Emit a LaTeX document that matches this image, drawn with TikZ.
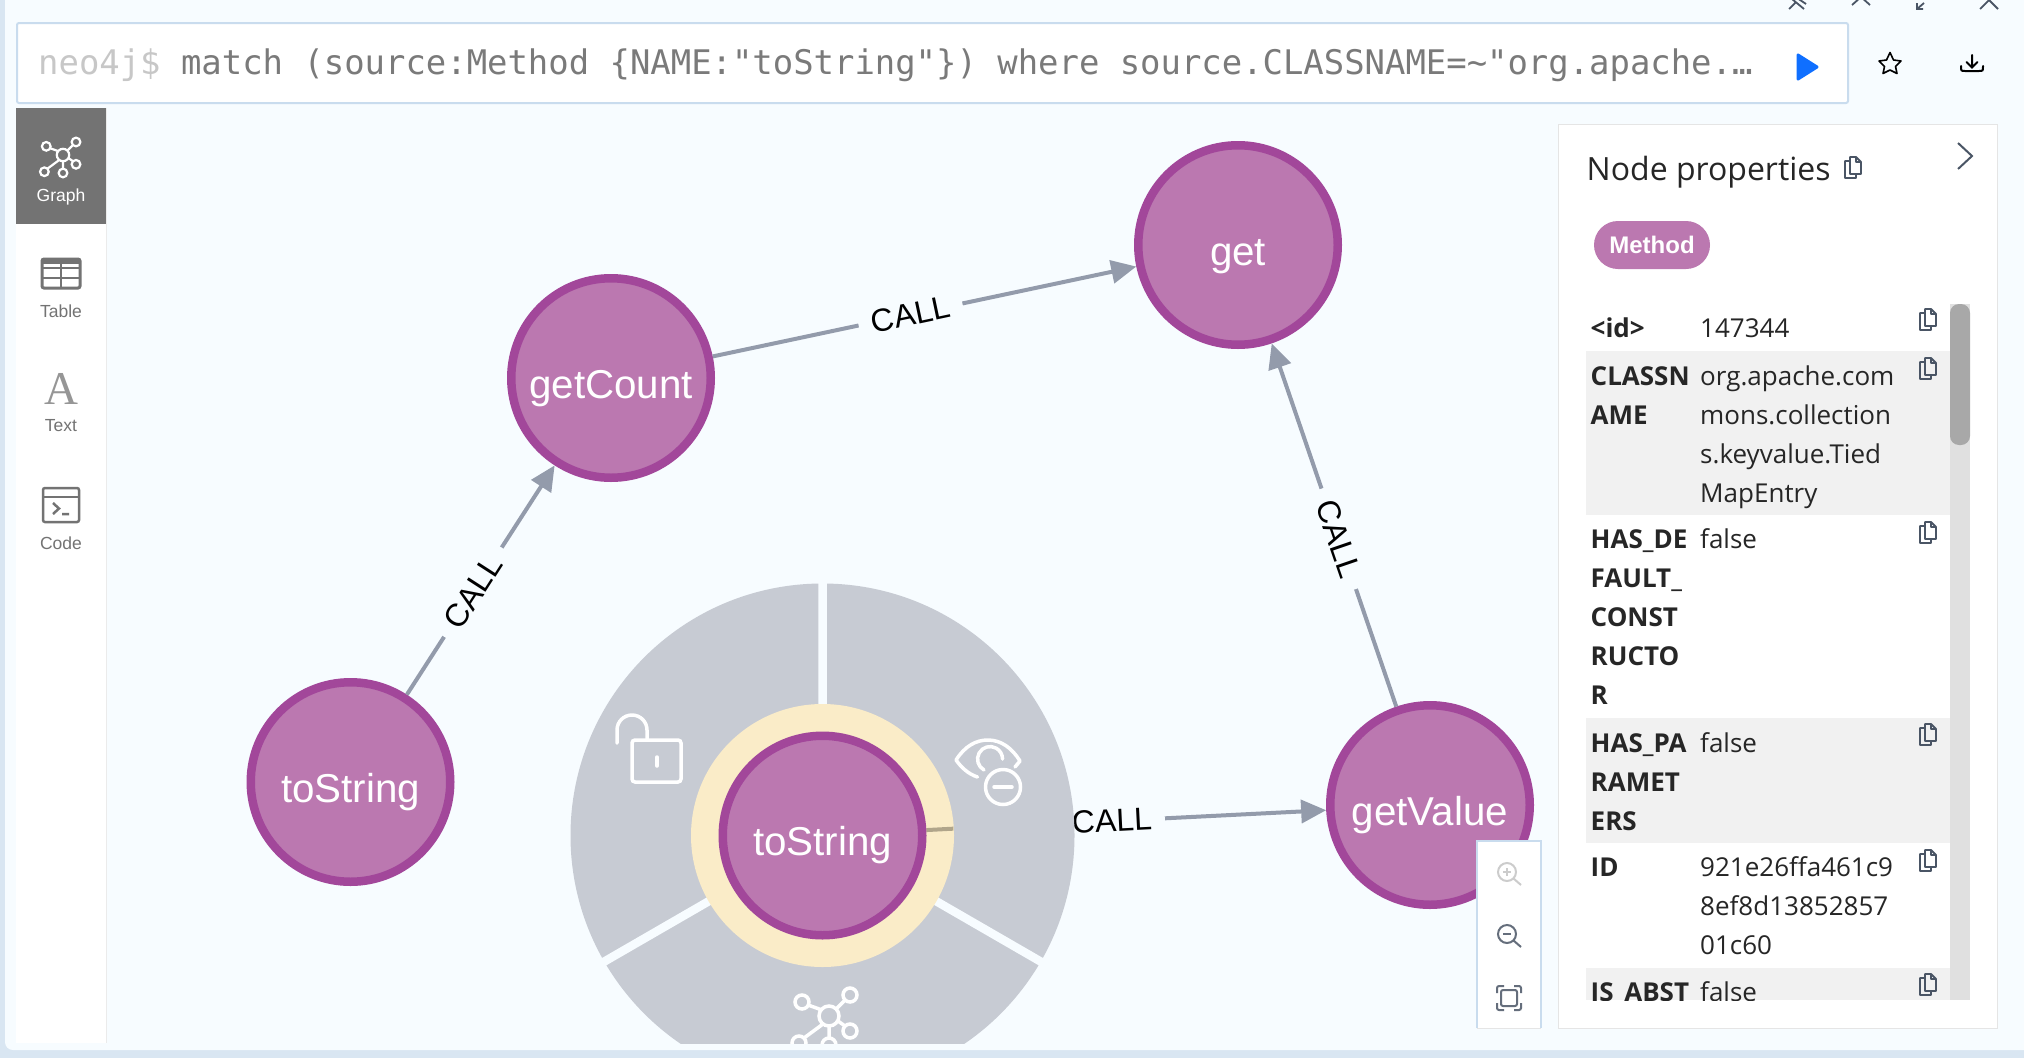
\documentclass[tikz,border=0pt]{standalone}
\usepackage{fontspec}
\setmainfont{Liberation Sans}
\newfontfamily\editorfont{DejaVu Sans Mono}
\newfontfamily\panelfont{Open Sans}
\newfontfamily\glyphfont{Liberation Serif}
\usetikzlibrary{arrows.meta,backgrounds}
\definecolor{canvasbg}{HTML}{F7FCFF}
\definecolor{framebg}{HTML}{D9E6F2}
\definecolor{boxedge}{HTML}{C9DCEE}
\definecolor{nodefill}{HTML}{BB78B0}
\definecolor{nodeedge}{HTML}{A2479A}
\definecolor{wheelgrey}{HTML}{C7CBD3}
\definecolor{halo}{HTML}{FAECC8}
\definecolor{haloedge}{HTML}{B0A58A}
\definecolor{edgegrey}{HTML}{939BAB}
\definecolor{iconslate}{HTML}{4A5565}
\definecolor{menugrey}{HTML}{737373}
\definecolor{rowgrey}{HTML}{F1F1F1}
\definecolor{runblue}{HTML}{0F6FFF}
\tikzset{
  method/.style={circle, draw=nodeedge, fill=nodefill, line width=8.5pt, minimum size=199.5pt, inner sep=0pt,
    text=white, font=\fontsize{40.3}{44}\selectfont, text height=40pt, text depth=0pt},
  call/.style={draw=edgegrey, line width=4pt, -{Triangle[length=25pt,width=23pt]}},
  calllabel/.style={fill=canvasbg, inner xsep=13pt, inner ysep=1pt, text=black, font=\fontsize{32}{36}\selectfont, sloped},
  menulabel/.style={text=menugrey, font=\fontsize{17.5}{20}\selectfont},
  keytext/.style={anchor=base west, inner sep=0pt, text=black!85, font=\panelfont\bfseries\fontsize{26}{30}\selectfont},
  valtext/.style={anchor=base west, inner sep=0pt, text=black!85, font=\panelfont\fontsize{26}{30}\selectfont},
  graph icon/.pic={
    \draw[pic actions] (0,0) circle (10)
    (-7,-6) -- (-21,-11) (7,-7) -- (16,-16) (9,5) -- (16,10) (0,10) -- (0,22) (-6,8) -- (-25,22);
    \draw[pic actions] (-27,-14) circle (7) (21,-21) circle (7) (21,15) circle (7) (0,29) circle (7) (-30,27) circle (7);
  },
  copy icon/.pic={
    \draw[iconslate, line width=1.8pt, line join=round]
    (-3,-11) -- (3,-11) -- (8,-6) -- (8,6) -- (-3,6) -- cycle
    (3,-11) -- (3,-6) -- (8,-6)
    (-3,-7) -- (-8,-7) -- (-8,10) -- (3,10) -- (3,6);
  },
  lens icon/.pic={
    \draw[pic actions] (-2,0) circle (9) (4.5,6.5) -- (12,13);
  },
}
\begin{document}
\begin{tikzpicture}[x=1pt, y=-1pt]
  \useasboundingbox (0,0) rectangle (2024,1058);

  % graph
  \node[method] (getMethod) at (1238,245) {get};
  \node[method] (getCount) at (611,378) {getCount};
  \node[method] (toStringA) at (350.5,782) {toString};
  \node[method] (toStringB) at (822.5,835.5) {toString};
  \node[method] (getValue) at (1430,805) {getValue};

  \begin{scope}[on background layer]
    \fill[framebg] (0,0) rectangle (2024,1058);
    \fill[canvasbg, rounded corners=8pt] (5,-20) rectangle (2040,1050);
    \fill[canvasbg] (5,-20) rectangle (2040,1000);

    \draw[call] (toStringB) -- (getValue) node[pos=.464, calllabel] {CALL};

    % context wheel
    \begin{scope}
      \clip (5,0) rectangle (2024,1043);
      \fill[wheelgrey] (toStringB.center) circle (252);
      \draw[canvasbg, line width=8.5pt]
      (toStringB.center) -- ++(0,-260)
      (toStringB.center) -- ++(225,130)
      (toStringB.center) -- ++(-225,130);
      \path[draw=white, line width=3.5pt] (829,1016) pic {graph icon};
    \end{scope}
    \fill[halo] (toStringB.center) circle (131.5);
    \draw[haloedge, line width=4pt] (toStringB.3) -- ++(27,-1.4);

    % lock
    \draw[white, line width=3.5pt, rounded corners=3pt] (632,740) rectangle (681,782);
    \draw[white, line width=3.5pt, line cap=round] (617,743) -- (617,730) arc[start angle=180, end angle=360, radius=15] -- (647,740);
    \draw[white, line width=3.5pt, line cap=round] (657,757) -- (657,766);
    % eye
    \draw[white, line width=3.5pt, line cap=round, line join=round]
    (977.5,777) .. controls (968,774) and (961,767) .. (956,760)
    .. controls (965,746) and (976,740) .. (988,740)
    .. controls (1001,740) and (1012,748) .. (1020,761) -- (1015,767);
    \draw[white, line width=3.5pt, line cap=round] (984,770) arc[start angle=119, end angle=360, radius=12.5];
    \draw[white, line width=3.5pt] (1003,787) circle (17.5);
    \draw[white, line width=3.5pt, line cap=round] (994,787) -- (1012,787);
  \end{scope}

  \draw[call] (toStringA) -- (getCount) node[pos=.447, calllabel] {CALL};
  \draw[call] (getCount) -- (getMethod) node[pos=.467, calllabel] {CALL};
  \draw[call] (getValue) -- (getMethod) node[pos=.462, calllabel] {CALL};

  % editor
  \draw[boxedge, fill=white, line width=2pt, rounded corners=2pt] (17,23) rectangle (1848,103);
  \node[anchor=base west, inner sep=0pt, font=\editorfont\fontsize{33.9}{38}\selectfont, text=black!52] (editorText) at (38,74.5)
  {\textcolor{black!22}{neo4j\$} match (source:Method \{NAME:"toString"\}) where source.CLASSNAME=\textasciitilde"org.apache.…};
  \fill[runblue, draw=runblue, line width=3pt, line join=round] (1798,55) -- (1817,67) -- (1798,79) -- cycle;
  \draw[black, line width=1.6pt, line join=round]
  (1890,52.5) -- (1893.5,60) -- (1901,61) -- (1895.5,66.5) -- (1897,73.5) -- (1890,70) -- (1883,73.5) -- (1884.5,66.5) -- (1879,61) -- (1886.5,60) -- cycle;
  \draw[black, line width=2pt, line cap=round] (1972,55) -- (1972,67) (1966.5,62) -- (1972,67.5) -- (1977.5,62);
  \draw[black, line width=2pt, line cap=round] (1961,66) .. controls (1961,71) .. (1965,71) -- (1979,71) .. controls (1983,71) .. (1983,66);

  % window buttons, cut at the top
  \draw[iconslate, line width=1.8pt] (1789,9) -- (1796,2) (1797,-2) -- (1806,4) (1792,-1) -- (1804,9);
  \draw[iconslate, line width=1.8pt] (1852,5) -- (1861,-3) -- (1870,5);
  \draw[iconslate, line width=1.8pt] (1917,9) -- (1924,3) (1917,3) -- (1917,9) -- (1923,9);
  \draw[iconslate, line width=1.8pt] (1980,9) -- (1989,0) -- (1998,9);

  % side menu
  \fill[white] (16,108) rectangle (106,1043);
  \draw[black!8] (106.5,108) -- (106.5,1043);
  \fill[menugrey] (16,108) rectangle (106,224);
  \path[draw=white, line width=2.2pt] (63,155) pic[scale=.62] {graph icon};
  \node[menulabel, text=white] (graphLabel) at (61,196.5) {Graph};
  \draw[menugrey, line width=3pt, rounded corners=2pt] (42,259) rectangle (80,288);
  \draw[menugrey, line width=2.5pt] (42,268) -- (80,268) (42,278) -- (80,278) (61,260) -- (61,287);
  \fill[menugrey] (42,259) rectangle (80,264);
  \node[menulabel] (tableLabel) at (61,311) {Table};
  \node[text=menugrey!75, inner sep=0pt, font=\glyphfont\fontsize{47}{50}\selectfont] (textGlyph) at (61,389) {A};
  \node[menulabel] (textLabel) at (61,426) {Text};
  \draw[menugrey, line width=2.5pt, rounded corners=2pt] (43,488) rectangle (79,522);
  \draw[menugrey, line width=2.5pt] (43,497) -- (79,497);
  \draw[menugrey, line width=2.5pt] (53,503) -- (59,508.5) -- (53,514) (62,514) -- (69,514);
  \node[menulabel] (codeLabel) at (61,543) {Code};

  % zoom buttons
  \draw[boxedge, fill=white, line width=1.5pt] (1477,1028) -- (1477,841) -- (1541,841) -- (1541,1028);
  \draw[black!10] (1477,1028.5) -- (1541,1028.5);
  \path[draw=black!20, line width=2pt] (1509,872) pic {lens icon};
  \draw[black!20, line width=2pt] (1503,872) -- (1511,872) (1507,868) -- (1507,876);
  \path[draw=iconslate!85, line width=2pt] (1509,934) pic {lens icon};
  \draw[iconslate!85, line width=2pt] (1503,934) -- (1511,934);
  \draw[iconslate!85, line width=2pt, rounded corners=2pt] (1501,990) rectangle (1517,1006);
  \draw[iconslate!85, line width=2pt, rounded corners=2pt] (1497,993) -- (1497,986) -- (1504,986) (1514,986) -- (1521,986) -- (1521,993) (1521,1003) -- (1521,1010) -- (1514,1010) (1504,1010) -- (1497,1010) -- (1497,1003);

  % properties panel
  \draw[black!10, fill=white] (1558,124) rectangle (1997,1028);
  \node[anchor=base west, inner sep=0pt, text=black!85, font=\panelfont\fontsize{32}{36}\selectfont] (panelTitle) at (1586.5,180) {Node properties};
  \path (1853,168) pic {copy icon};
  \draw[iconslate, line width=2pt] (1958,143) -- (1972,156) -- (1958,169);
  \node[rounded corners=24pt, fill=nodefill, minimum width=116pt, minimum height=48pt, inner sep=0pt, text=white,
    font=\bfseries\fontsize{24}{28}\selectfont] (methodPill) at (1652,245) {Method};

  \begin{scope}
    \clip (1570,300) rectangle (1975,1000);
    \fill[rowgrey] (1586,351) rectangle (1951,515);
    \fill[rowgrey] (1586,718) rectangle (1951,843);
    \fill[rowgrey] (1586,968) rectangle (1951,1000);
    \fill[black!12] (1950,304) rectangle (1970,1000);
    \fill[black!34, rounded corners=9pt] (1950,304) rectangle (1970,445);

    \foreach \txt/\ypos in {<id>/337, CLASSN/385, AME/424, HAS\_DE/548, FAULT\_/587, CONST/626, RUCTO/665, R/704, HAS\_PA/752, RAMET/791, ERS/830, ID/876, IS\_ABST/1001}
      \node[keytext] at (1590.5,\ypos) {\txt};
    \foreach \txt/\ypos in {147344/337, org.apache.com/385, mons.collection/424, s.keyvalue.Tied/463, MapEntry/502, false/548, false/752, 921e26ffa461c9/876, 8ef8d13852857/915, 01c60/954, false/1001}
      \node[valtext] at (1700,\ypos) {\txt};
    \foreach \ypos in {320,369,533,735,861,985}
      \path (1928,\ypos) pic {copy icon};
  \end{scope}
\end{tikzpicture}
\end{document}
